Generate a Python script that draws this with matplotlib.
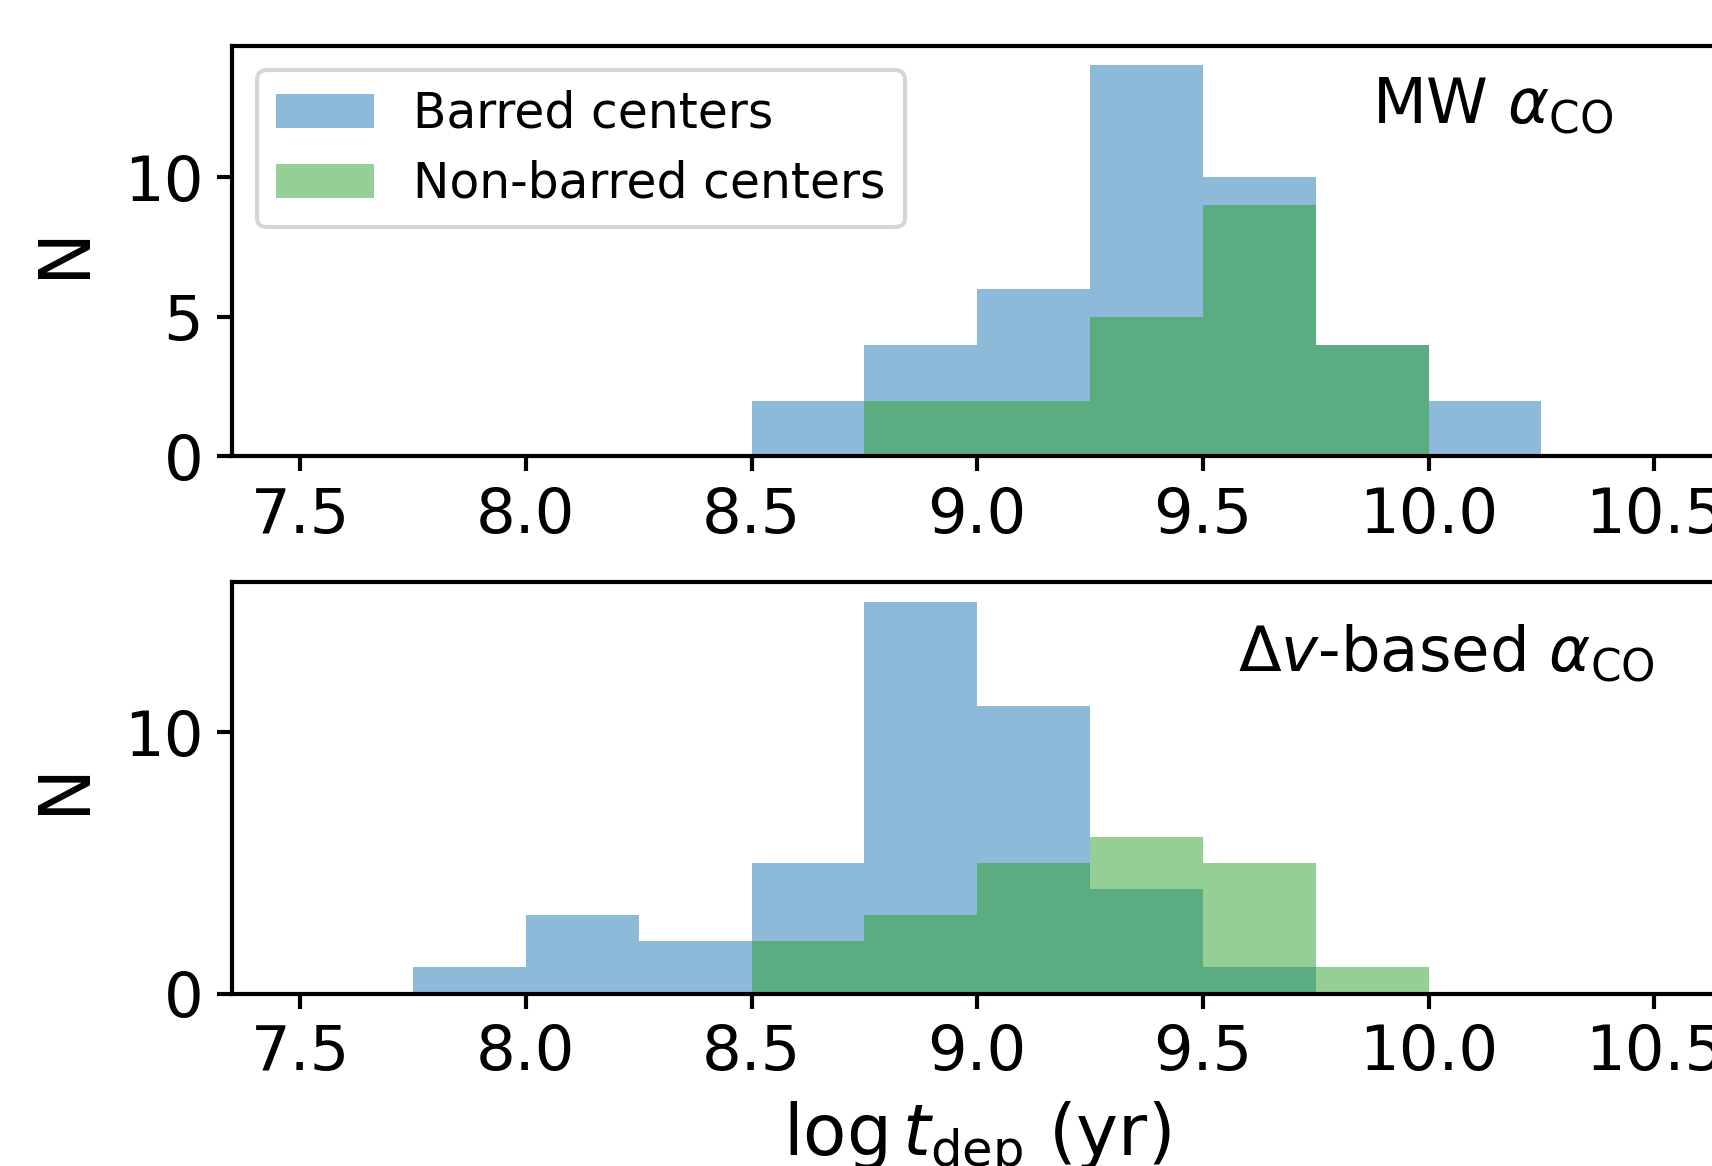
import matplotlib.pyplot as plt
import numpy as np

# log t_dep bin edges (0.25 dex)
edges = np.arange(7.5, 10.51, 0.25)

# counts per bin, MW alpha_CO
mw_barred = [0, 0, 0, 0, 2, 4, 6, 14, 10, 4, 2, 0]
mw_nonbarred = [0, 0, 0, 0, 0, 2, 2, 5, 9, 4, 0, 0]

# counts per bin, dv-based alpha_CO
dv_barred = [0, 1, 3, 2, 5, 15, 11, 4, 1, 0, 0, 0]
dv_nonbarred = [0, 0, 0, 0, 2, 3, 5, 6, 5, 1, 0, 0]

labels = ['Barred centers', 'Non-barred centers']
panel_text = [r'MW $\alpha_{\rm CO}$', r'$\Delta v$-based $\alpha_{\rm CO}$']

plt.rcParams['axes.linewidth'] = 1.0
plt.rcParams['xtick.major.width'] = 1.0
plt.rcParams['ytick.major.width'] = 1.0

fig = plt.figure(figsize=(1712 / 300, 1166 / 300), dpi=300)
ax1 = fig.add_axes([0.1358, 0.6086, 0.8700, 0.3520])
ax2 = fig.add_axes([0.1358, 0.1479, 0.8700, 0.3530])

text_pos = [(0.765, 0.853), (0.675, 0.827)]

for ax, b, nb, txt, pos in zip([ax1, ax2], [mw_barred, dv_barred],
                               [mw_nonbarred, dv_nonbarred], panel_text, text_pos):
    ax.hist(edges[:-1], bins=edges, weights=b, color='tab:blue', alpha=0.5,
            label=labels[0])
    ax.hist(edges[:-1], bins=edges, weights=nb, color='tab:green', alpha=0.5,
            label=labels[1])
    ax.set_xlim(7.35, 10.65)
    ax.set_ylabel('N', fontsize=17, labelpad=6)
    ax.tick_params(labelsize=15)
    ax.text(pos[0], pos[1], txt, transform=ax.transAxes, fontsize=15,
            ha='left', va='center')

ax1.set_yticks([0, 5, 10])
ax2.set_yticks([0, 10])
ax1.legend(loc='upper left', fontsize=11.7, labelspacing=0.45)
ax2.set_xlabel(r'$\log t_{\rm dep}$ (yr)', fontsize=17)

fig.savefig('out.png', dpi=300)
